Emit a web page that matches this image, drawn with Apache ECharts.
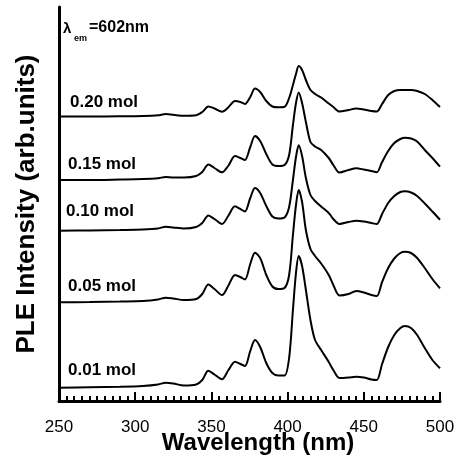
<!DOCTYPE html>
<html>
<head>
<meta charset="utf-8">
<script src="https://cdn.jsdelivr.net/npm/echarts@6/dist/echarts.min.js"></script>
<style>
html,body{margin:0;padding:0;background:#fff;}
#chart{width:457px;height:457px;}
</style>
</head>
<body>
<div id="chart"></div>
<script>
// Wavelength grid (nm)
const wavelength = [250, 270, 290, 305, 315, 320, 325, 332, 340, 344, 348, 352, 357, 361, 365.5, 369, 372, 375.5, 378.6, 382, 386, 390, 394, 398, 401, 403.5, 405.5, 407.3, 409.5, 412, 415, 418, 422, 427, 430, 434, 440, 445, 450, 455, 458.5, 462, 466, 470, 474, 477, 481, 485, 490, 495, 500];

// PLE intensities (arb. units, curves already offset as in the figure)
const mol001 = [13.3, 13.7, 14.2, 15, 16.5, 18.3, 17.5, 15.5, 16.5, 21, 30.3, 26.5, 21.7, 30.5, 39.3, 37, 35, 50, 61, 54, 38, 28, 25.5, 25.5, 43, 91, 128, 145, 135, 111, 81, 61, 51, 39, 31, 23, 23.5, 24.3, 23.5, 21.5, 21, 37, 54, 66, 73, 75, 73, 66, 53, 41, 32.7];
const mol005 = [98.7, 99, 99.5, 100, 101.5, 103.3, 102.5, 101, 102, 107, 116.5, 112, 106, 115, 126, 124, 121.5, 137, 148.3, 143, 126, 114.5, 112, 113, 126, 166, 196, 211, 199, 171, 152, 145, 137.5, 126, 116, 105.5, 107, 110, 108.5, 106, 105, 119, 133, 142.5, 148, 149.3, 148, 143, 133, 122, 112.7];
const mol010 = [170.3, 170.5, 171, 171.5, 172.5, 174.3, 173.5, 172.5, 174, 178, 185.5, 182, 177, 185, 194.7, 192, 189.5, 203, 213, 208, 195, 184.5, 182.5, 183.5, 194, 221, 244, 255.7, 245, 223, 206, 200, 194.5, 188, 182, 177, 179, 180.3, 179.5, 178, 177, 187, 198, 205, 209, 209.7, 208.5, 205, 197.5, 189.5, 181.3];
const mol015 = [221, 221, 221.5, 222, 222.8, 224, 223.5, 223.5, 225, 229, 236.5, 233, 228.7, 235, 245, 243, 241, 254, 265, 260, 247, 236.5, 235, 236, 246, 276, 298, 308.5, 298, 279, 259, 254.5, 251, 243, 236, 228.5, 231, 232.7, 231.5, 230, 228.7, 239, 250, 258, 262, 263.3, 262.5, 259.5, 251, 243, 234.3];
const mol020 = [284.5, 284.5, 284.7, 285, 285.7, 287, 286.2, 285.2, 285.7, 289, 294.5, 292.5, 289.3, 293.5, 300, 299, 297, 304, 312.5, 309, 300, 294.5, 293.7, 294.2, 303, 316, 327, 335, 331, 321, 311, 307, 303.5, 297.5, 294, 289.5, 291, 292.5, 291.5, 290, 289.5, 297, 306, 310, 311, 311, 311, 310, 307, 301, 294];

const seriesNames = ['0.01 mol', '0.05 mol', '0.10 mol', '0.15 mol', '0.20 mol'];
const seriesValues = [mol001, mol005, mol010, mol015, mol020];

const xMin = 250, xMax = 500, xInterval = 50;
const yMin = 0, yMax = 394;

// label placement (pixels) kept separate from data
const labelPos = [
  {left: 68, top: 362},
  {left: 68, top: 278},
  {left: 66, top: 203},
  {left: 68, top: 156},
  {left: 70, top: 94}
];

const chart = echarts.init(document.getElementById('chart'), null, {renderer: 'canvas'});

const FONT = 'Arial, "Liberation Sans", Helvetica, sans-serif';

const series = seriesValues.map((vals, i) => ({
  name: seriesNames[i],
  type: 'line',
  data: wavelength.map((w, j) => [w, vals[j]]),
  showSymbol: false,
  smooth: 0.3,
  lineStyle: {color: '#000', width: 2},
  itemStyle: {color: '#000'},
  silent: true
}));

const graphics = seriesNames.map((n, i) => ({
  type: 'text',
  left: labelPos[i].left,
  top: labelPos[i].top,
  style: {text: n, font: 'bold 17px ' + FONT, fill: '#000'}
}));

graphics.push(
  {type: 'text', left: 63, top: 21, style: {text: 'λ', font: 'bold 15px ' + FONT, fill: '#000'}},
  {type: 'text', left: 74, top: 34, style: {text: 'em', font: 'bold 9px ' + FONT, fill: '#000'}},
  {type: 'text', left: 89, top: 20, style: {text: '=602nm', font: 'bold 16px ' + FONT, fill: '#000'}}
);

chart.setOption({
  animation: false,
  backgroundColor: '#fff',
  grid: {left: 59, right: 17, top: 7, bottom: 56, containLabel: false, outerBoundsMode: 'none'},
  xAxis: {
    type: 'value',
    min: xMin, max: xMax, interval: xInterval,
    axisLine: {show: true, onZero: false, lineStyle: {color: '#000', width: 3}},
    axisTick: {show: true, inside: true, length: 9, lineStyle: {color: '#000', width: 2}},
    minorTick: {show: true, splitNumber: 10, length: 5, lineStyle: {color: '#000', width: 2}},
    axisLabel: {fontSize: 17, color: '#000', margin: 18, fontFamily: FONT},
    splitLine: {show: false},
    minorSplitLine: {show: false},
    name: 'Wavelength (nm)',
    nameLocation: 'middle',
    nameGap: 30,
    nameMoveOverlap: false,
    nameTextStyle: {fontSize: 24, fontWeight: 'bold', color: '#000', fontFamily: FONT, padding: [0, 0, 0, 17]}
  },
  yAxis: {
    type: 'value',
    min: yMin, max: yMax,
    axisLine: {show: true, onZero: false, lineStyle: {color: '#000', width: 3}},
    axisTick: {show: false},
    axisLabel: {show: false},
    splitLine: {show: false},
    name: 'PLE Intensity (arb.units)',
    nameLocation: 'middle',
    nameGap: 19,
    nameMoveOverlap: false,
    nameTextStyle: {fontSize: 26, fontWeight: 'bold', color: '#000', fontFamily: FONT}
  },
  graphic: graphics,
  series: series
});
</script>
</body>
</html>
